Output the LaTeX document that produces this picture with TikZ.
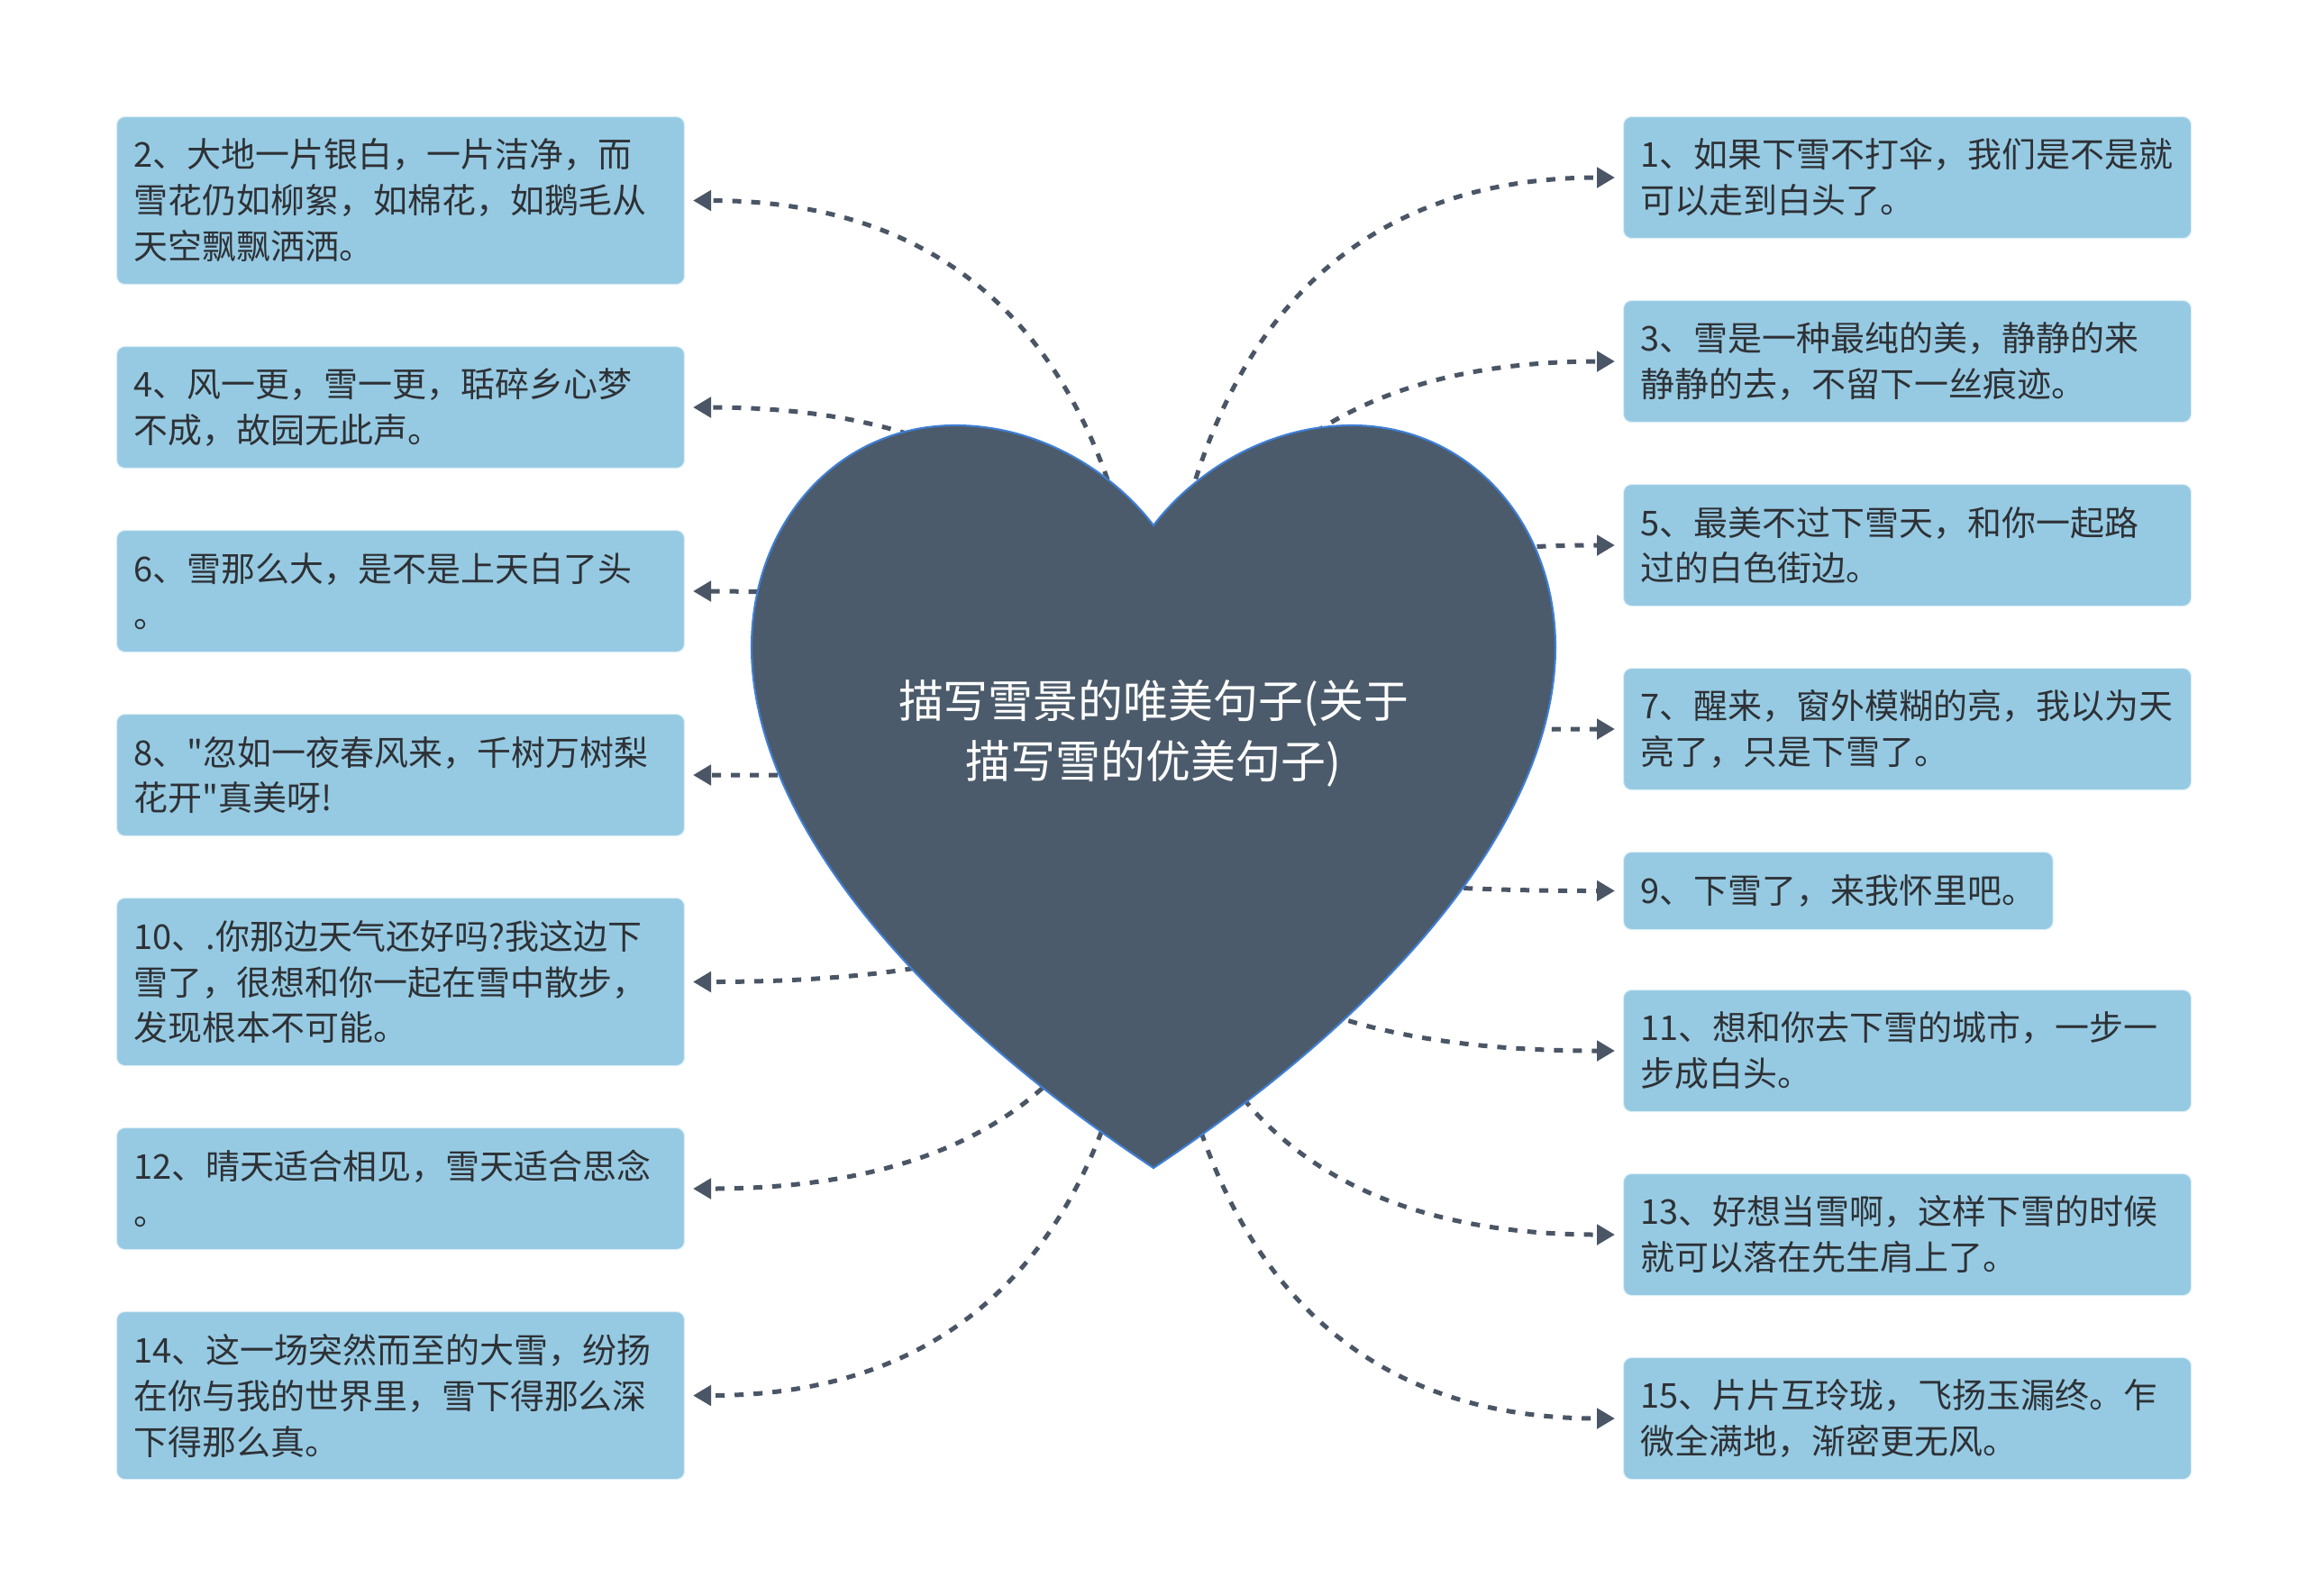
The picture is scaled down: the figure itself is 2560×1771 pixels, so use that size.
\documentclass[tikz,border=0pt]{standalone}
\usepackage{fontspec}
\newfontfamily\cjkfont{Noto Sans CJK SC}
\usepackage{xcolor}
\definecolor{snowbox}{HTML}{96CAE3}
\definecolor{snowedge}{HTML}{DCEEF7}
\definecolor{heartfill}{HTML}{4B5B6B}
\definecolor{heartline}{HTML}{3F7FD6}
\definecolor{linkgrey}{HTML}{4A5666}
\definecolor{inktext}{HTML}{2E3135}
\usepackage{tikz}
\usetikzlibrary{arrows.meta,calc}

\begin{document}
\begin{tikzpicture}[
  x=0.1mm, y=-0.1mm,
  font=\cjkfont\fontsize{10.8pt}{14.5pt}\selectfont,
  note/.style={draw=snowedge, line width=0.3pt, rounded corners=0.9mm, fill=snowbox, text=inktext, align=left, inner xsep=1.9mm, inner ysep=0pt, anchor=north west},
  card/.style={note, text width=59.2mm, minimum height=13.5mm},
  tall/.style={minimum height=18.6mm},
  conn/.style={-{Triangle[length=2mm,width=2.2mm]}, line width=0.5mm, dash pattern=on 1mm off 1.1mm, color=linkgrey, shorten >=0.9mm},
  heart/.style={fill=heartfill, draw=heartline, line width=0.6pt},
  title/.style={text=white, align=center, font=\cjkfont\fontsize{14.2pt}{19pt}\selectfont},
]
  \fill[white] (0,0) rectangle (2560,1771);
  \useasboundingbox (0,0) rectangle (2560,1771);

  % left column
  \node[card, tall] (b2)  at (129,129)  {2、大地一片银白，一片洁净，而\\雪花仍如柳絮，如棉花，如鹅毛从\\天空飘飘洒洒。};
  \node[card]       (b4)  at (129,384)  {4、风一更，雪一更，聒碎乡心梦\\不成，故园无此声。};
  \node[card]       (b6)  at (129,588)  {6、雪那么大，是不是上天白了头\\。};
  \node[card]       (b8)  at (129,792)  {8、"忽如一夜春风来，千树万树梨\\花开"真美呀!};
  \node[card, tall] (b10) at (129,996)  {10、.你那边天气还好吗?我这边下\\雪了，很想和你一起在雪中散步，\\发现根本不可能。};
  \node[card]       (b12) at (129,1251) {12、晴天适合相见，雪天适合思念\\。};
  \node[card, tall] (b14) at (129,1455) {14、这一场突然而至的大雪，纷扬\\在你与我的世界里，雪下得那么深\\下得那么真。};

  % right column
  \node[card] (b1)  at (1801,129)  {1、如果下雪不打伞，我们是不是就\\可以走到白头了。};
  \node[card] (b3)  at (1801,333)  {3、雪是一种最纯的美，静静的来\\静静的去，不留下一丝痕迹。};
  \node[card] (b5)  at (1801,537)  {5、最美不过下雪天，和你一起路\\过的白色街边。};
  \node[card] (b7)  at (1801,741)  {7、醒来，窗外模糊的亮，我以为天\\亮了，只是下雪了。};
  \node[note, minimum height=8.6mm] (b9) at (1801,945) {9、下雪了，来我怀里吧。};
  \node[card] (b11) at (1801,1098) {11、想和你去下雪的城市，一步一\\步成白头。};
  \node[card] (b13) at (1801,1302) {13、好想当雪啊，这样下雪的时候\\就可以落在先生肩上了。};
  \node[card] (b15) at (1801,1506) {15、片片互玲珑，飞扬玉漏终。乍\\微全满地，渐密更无风。};

  \coordinate (hc) at (1280,884);

  \foreach \n in {b2,b4,b6,b8,b10,b12,b14}
    \draw[conn] (hc) .. controls ($(hc)!2/3!(hc |- \n.east)$) and ($(\n.east)!2/3!(hc |- \n.east)$) .. (\n.east);
  \foreach \n in {b1,b3,b5,b7,b9,b11,b13,b15}
    \draw[conn] (hc) .. controls ($(hc)!2/3!(hc |- \n.west)$) and ($(\n.west)!2/3!(hc |- \n.west)$) .. (\n.west);

  \draw[heart] (1280,583)
    .. controls (1320,530) and (1400,472) .. (1500,472)
    .. controls (1630,472) and (1726,580) .. (1726,718)
    .. controls (1726,900) and (1560,1110) .. (1280,1296)
    .. controls (1000,1110) and (834,900) .. (834,718)
    .. controls (834,580) and (930,472) .. (1060,472)
    .. controls (1160,472) and (1240,530) .. cycle;
  \node[title] (root) at (1280,814) {描写雪景的唯美句子(关于\\描写雪的优美句子)};
\end{tikzpicture}
\end{document}
